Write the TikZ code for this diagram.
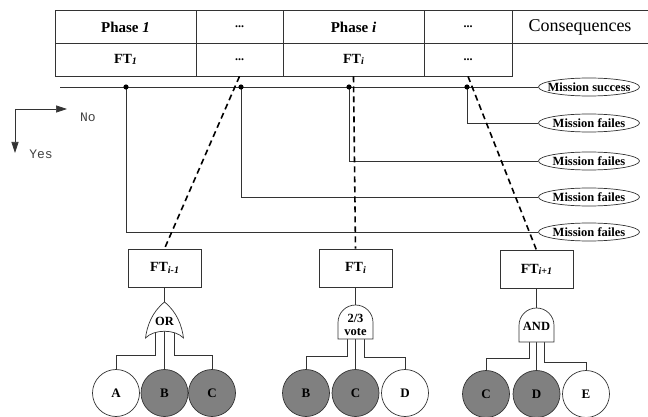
\documentclass[tikz,border=0pt]{standalone}
\usepackage{fontspec}
\setmainfont{Liberation Serif}
\newfontfamily\legendfont{Liberation Mono}
\usetikzlibrary{shapes.geometric,arrows.meta}

\newcommand{\ftsub}[1]{FT\raisebox{-0.25ex}{\fontsize{10}{10}\selectfont\textit{#1}}}

\begin{document}
\begin{tikzpicture}[x = 1pt, y = -1pt,
    wire/.style = {draw = black!80, line width = 0.7pt},
    cell/.style = {wire, rectangle, inner sep = 0pt, minimum height = 32.5pt, font = \fontsize{15}{17}\selectfont\bfseries},
    ftcell/.style = {cell, minimum height = 33pt, font = \fontsize{14}{16}\selectfont\bfseries},
    dotcell/.style = {font = \fontsize{12}{14}\selectfont\bfseries},
    ftbox/.style = {wire, rectangle, minimum width = 73pt, minimum height = 38pt, inner sep = 0pt, font = \fontsize{14}{16}\selectfont\bfseries},
    outcome/.style = {wire, ellipse, fill = white, minimum width = 101pt, minimum height = 18pt, inner sep = 0pt, font = \fontsize{12.5}{14}\selectfont\bfseries},
    event/.style = {wire, circle, fill = white, minimum size = 47pt, inner sep = 0pt, font = \fontsize{13}{15}\selectfont\bfseries},
    basic/.style = {event, fill = black!50},
    gatetext/.style = {inner sep = 0pt, align = center, font = \fontsize{12.5}{13}\selectfont\bfseries},
    trace/.style = {draw = black, line width = 1.6pt, dash pattern = on 6pt off 4pt},
    legendtext/.style = {text = black!75, font = \legendfont\fontsize{13}{15}\selectfont},
    tip/.style = {-{Triangle[length = 11pt, width = 7pt]}}]
        \useasboundingbox (0,0) rectangle (648,417);
        
        \node[cell, minimum width = 141pt] (phone) at (125.5,27) {Phase \textit{1}};
        \node[cell, minimum width = 87pt] (phdots) at (239.5,27) {\fontsize{12}{14}\selectfont ...};
        \node[cell, minimum width = 141pt] (phi) at (353.5,27) {Phase \textit{i}};
        \node[cell, minimum width = 88pt] (phdotsb) at (468,27) {\fontsize{12}{14}\selectfont ...};
        \node[inner sep = 0pt, minimum width = 136pt, minimum height = 32.5pt, font = \fontsize{18}{20}\selectfont] (cons) at (580,27) {Consequences};
        \draw[wire] (cons.north west) -- (cons.north east);
        \draw[wire] (cons.south west) -- (cons.south east);
        
        \node[ftcell, minimum width = 141pt] (ftone) at (125.5,59.5) {\ftsub{1}};
        \node[ftcell, minimum width = 87pt] (ftdots) at (239.5,59.5) {\fontsize{12}{14}\selectfont ...};
        \node[ftcell, minimum width = 141pt] (fti) at (353.5,59.5) {\ftsub{i}};
        \node[ftcell, minimum width = 88pt] (ftdotsb) at (468,59.5) {\fontsize{12}{14}\selectfont ...};
        
        \node[outcome] (succ) at (589,87) {\makebox[0pt]{Mission success}};
        \node[outcome] (failA) at (589,123) {\makebox[0pt]{Mission failes}};
        \node[outcome] (failB) at (589,161) {\makebox[0pt]{Mission failes}};
        \node[outcome] (failC) at (589,197) {\makebox[0pt]{Mission failes}};
        \node[outcome] (failD) at (589,232) {\makebox[0pt]{Mission failes}};
        
        \coordinate (busstart) at (60,87);
        \coordinate (jA) at (467,87);
        \coordinate (jB) at (349,87);
        \coordinate (jC) at (241,87);
        \coordinate (jD) at (126,87);
        \draw[wire] (busstart) -- (succ);
        \draw[wire] (jA) |- (failA);
        \draw[wire] (jB) |- (failB);
        \draw[wire] (jC) |- (failC);
        \draw[wire] (jD) |- (failD);
        \foreach \j in {jA,jB,jC,jD}
            \fill (\j) circle (2.6pt);
        
        \node[ftbox] (ftprev) at (164.5,268) {\ftsub{i-1}};
        \node[ftbox] (ftcur) at (355.5,268) {\ftsub{i}};
        \node[ftbox] (ftnext) at (536.5,269.5) {\ftsub{i+1}};
        
        \draw[trace] (ftdots.south) -- (ftprev.north);
        \draw[trace] (fti.south) -- (ftcur.north);
        \draw[trace] (ftdotsb.south) -- (ftnext.north);
        
        \node[event] (ea) at (116,393) {A};
        \node[basic] (eb) at (164.5,393) {B};
        \node[basic] (ec) at (212,393) {C};
        \node[basic] (ebb) at (306,393) {B};
        \node[basic] (ecb) at (355.5,393) {C};
        \node[event] (edb) at (405,393) {D};
        \node[basic] (ecc) at (486,394) {C};
        \node[basic] (edc) at (536.5,394) {D};
        \node[event] (eec) at (586,394) {E};
        
        \coordinate (ortop) at (164.5,302);
        \coordinate (orinA) at (155,330);
        \coordinate (orinB) at (164.5,330);
        \coordinate (orinC) at (174,330);
        \draw[wire] (ftprev) -- (ortop);
        \draw[wire] (orinA) -- ++(0,25) -| (ea);
        \draw[wire] (orinB) -- (eb);
        \draw[wire] (orinC) -- ++(0,25) -| (ec);
        \draw[wire, fill = white] 
        (164.5,302) .. controls (152,312) and (147,326) .. 
        (145.5,338) .. controls (154,329) and (175,329) .. 
        (183.5,338) .. controls (182,326) and (177,312) .. (164.5,302);
        \node[gatetext] (orlabel) at (164.5,321) {OR};
        
        \coordinate (votetop) at (355.5,305);
        \coordinate (voteinA) at (347,335);
        \coordinate (voteinB) at (355.5,335);
        \coordinate (voteinC) at (364,335);
        \draw[wire] (ftcur) -- (votetop);
        \draw[wire] (voteinA) -- ++(0,21) -| (ebb);
        \draw[wire] (voteinB) -- (ecb);
        \draw[wire] (voteinC) -- ++(0,22) -| (edb);
        \draw[wire, fill = white] 
        (338,339) -- (338,322.5) .. controls (338,312.8) and (345.8,305) .. 
        (355.5,305) .. controls (365.2,305) and (373,312.8) .. 
        (373,322.5) -- (373,339) -- cycle;
        \node[gatetext] (votelabel) at (355.5,324.5) {2/3\\vote};
        
        \coordinate (andtop) at (536.5,308);
        \coordinate (andinA) at (529,338);
        \coordinate (andinB) at (536.5,338);
        \coordinate (andinC) at (544,338);
        \draw[wire] (ftnext) -- (andtop);
        \draw[wire] (andinA) -- ++(0,20) -| (ecc);
        \draw[wire] (andinB) -- (edc);
        \draw[wire] (andinC) -- ++(0,24) -| (eec);
        \draw[wire, fill = white] 
        (519,342) -- (519,325.5) .. controls (519,315.8) and (526.8,308) .. 
        (536.5,308) .. controls (546.2,308) and (554,315.8) .. 
        (554,325.5) -- (554,342) -- cycle;
        \node[gatetext] (andlabel) at (536.5,326) {AND};
        
        \coordinate (corner) at (15,109);
        \coordinate (noend) at (67,109);
        \coordinate (yesend) at (15,153);
        \draw[wire, tip] (corner) -- (noend);
        \draw[wire, tip] (corner) -- (yesend);
        \node[legendtext] (no) at (88,117) {No};
        \node[legendtext] (yes) at (41,154) {Yes};
    \end{tikzpicture}
\end{document}
